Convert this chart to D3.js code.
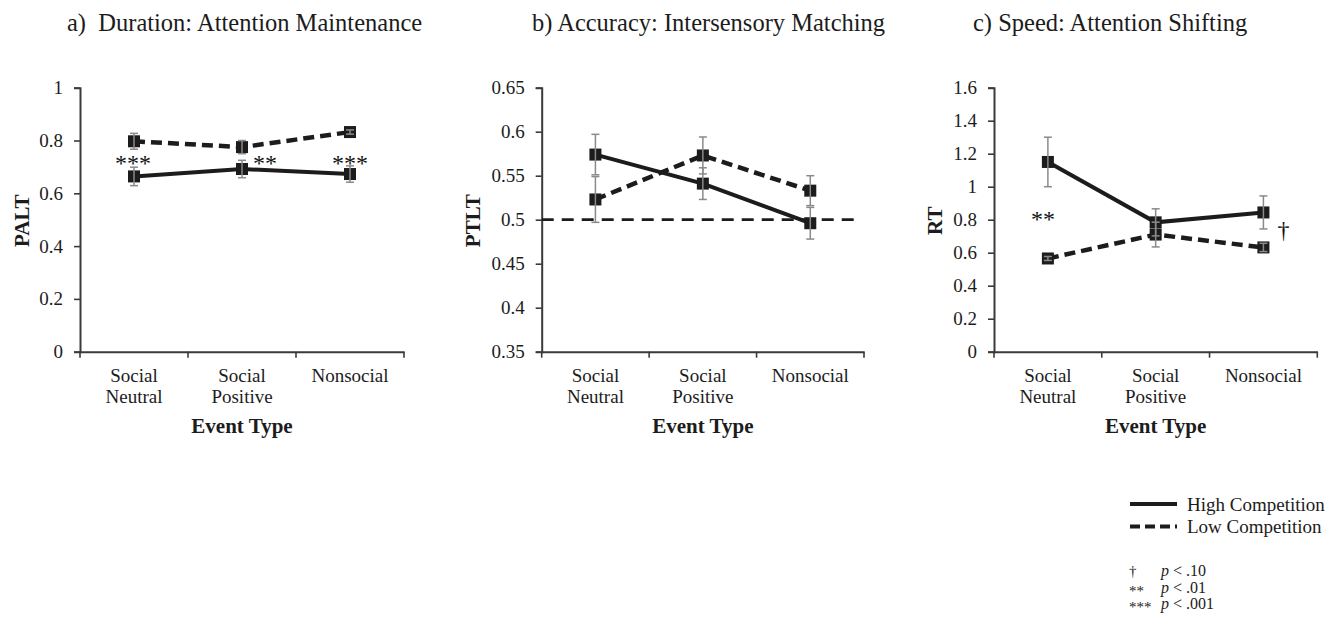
<!DOCTYPE html>
<html>
<head>
<meta charset="utf-8">
<script src="https://cdn.jsdelivr.net/npm/d3@7"></script>
<style>
  body { margin: 0; background: #fff; }
  svg { display: block; font-family: "Liberation Serif", "Times New Roman", serif; }
</style>
</head>
<body>
<svg id="chart" width="1339" height="626"></svg>
<script>
// categories shared by all three panels
const categories = ["Social Neutral", "Social Positive", "Nonsocial"];

// a) Duration (PALT)
const durationHigh = [0.664, 0.692, 0.673];
const durationHighErr = [0.035, 0.033, 0.031];
const durationLow = [0.797, 0.775, 0.832];
const durationLowErr = [0.030, 0.025, 0.008];
const durationTicks = ["0", "0.2", "0.4", "0.6", "0.8", "1"];

// b) Accuracy (PTLT)
const accuracyHigh = [0.574, 0.541, 0.496];
const accuracyHighErr = [0.023, 0.018, 0.018];
const accuracyLow = [0.523, 0.573, 0.533];
const accuracyLowErr = [0.026, 0.021, 0.017];
const accuracyTicks = ["0.35", "0.4", "0.45", "0.5", "0.55", "0.6", "0.65"];

// c) Speed (RT)
const speedHigh = [1.15, 0.784, 0.844];
const speedHighErr = [0.15, 0.082, 0.10];
const speedLow = [0.565, 0.71, 0.632];
const speedLowErr = [0.012, 0.075, 0.025];
const speedTicks = ["0", "0.2", "0.4", "0.6", "0.8", "1", "1.2", "1.4", "1.6"];

// significance marks: [category index, y value, text, x offset]
const durationSig = [[0, 0.685, "***", -1], [1, 0.685, "**", 23], [2, 0.685, "***", 0]];
const speedSig = [[0, 0.755, "**", -5], [2, 0.69, "\u2020", 20]];

const svg = d3.select("#chart");
const ink = "#1c1c1c";
const axisColor = "#3a3a3a";
const errColor = "#8a8a8a";
const plotTop = 87.7, plotBottom = 351.7;

const panels = [
  { title: "a)  Duration: Attention Maintenance", titleX: 67, left: 80, right: 404, yLabel: "PALT", yLabelX: 29,
    ticks: durationTicks, high: durationHigh, highErr: durationHighErr, low: durationLow, lowErr: durationLowErr, sig: durationSig },
  { title: "b) Accuracy: Intersensory Matching", titleX: 532, left: 541.7, right: 864, yLabel: "PTLT", yLabelX: 480,
    ticks: accuracyTicks, high: accuracyHigh, highErr: accuracyHighErr, low: accuracyLow, lowErr: accuracyLowErr, sig: [], refLine: 0.5 },
  { title: "c) Speed: Attention Shifting", titleX: 973, left: 994, right: 1317.3, yLabel: "RT", yLabelX: 942,
    ticks: speedTicks, high: speedHigh, highErr: speedHighErr, low: speedLow, lowErr: speedLowErr, sig: speedSig }
];

panels.forEach(p => {
  const tickVals = p.ticks.map(Number);
  const y = d3.scaleLinear().domain(d3.extent(tickVals)).range([plotBottom, plotTop]);
  const x = d3.scaleBand().domain(categories).range([p.left, p.right]);
  const cx = c => x(c) + x.bandwidth() / 2;

  svg.append("text")
    .attr("x", p.titleX).attr("y", 31)
    .attr("font-size", 24.5).attr("fill", ink)
    .style("white-space", "pre")
    .text(p.title);

  // y axis
  const yAxis = svg.append("g")
    .attr("transform", `translate(${p.left},0)`)
    .call(d3.axisLeft(y).tickValues(tickVals).tickFormat((d, i) => p.ticks[i]).tickSize(6).tickPadding(11));
  yAxis.select(".domain").attr("stroke", axisColor).attr("stroke-width", 2);
  yAxis.selectAll(".tick line").attr("stroke", axisColor).attr("stroke-width", 1.6);
  yAxis.selectAll(".tick text").attr("font-size", 19).attr("fill", ink).attr("font-family", "Liberation Serif, serif");

  // x axis: labels at band centres, ticks at band edges
  const xAxis = svg.append("g")
    .attr("transform", `translate(0,${plotBottom})`)
    .call(d3.axisBottom(x).tickSize(0).tickPadding(0).tickSizeOuter(0));
  xAxis.select(".domain").attr("stroke", axisColor).attr("stroke-width", 2);
  xAxis.selectAll(".tick text").remove();
  xAxis.selectAll(".tick").each(function(d) {
    const words = d.split(" ");
    const t = d3.select(this).append("text")
      .attr("font-size", 19).attr("fill", ink).attr("text-anchor", "middle")
      .attr("font-family", "Liberation Serif, serif");
    words.forEach((w, i) => t.append("tspan").attr("x", 0).attr("y", 30 + i * 21.5).text(w));
  });
  const edges = d3.range(categories.length + 1).map(i => p.left + i * x.step());
  xAxis.selectAll(".edge").data(edges).enter().append("line")
    .attr("x1", d => d).attr("x2", d => d).attr("y1", 0).attr("y2", 6)
    .attr("stroke", axisColor).attr("stroke-width", 1.6);

  svg.append("text")
    .attr("x", (p.left + p.right) / 2).attr("y", 433)
    .attr("text-anchor", "middle").attr("font-size", 21).attr("font-weight", "bold").attr("fill", ink)
    .text("Event Type");

  svg.append("text")
    .attr("transform", `translate(${p.yLabelX},${(plotTop + plotBottom) / 2 + 1}) rotate(-90)`)
    .attr("text-anchor", "middle").attr("font-size", 21).attr("font-weight", "bold").attr("fill", ink)
    .text(p.yLabel);

  if (p.refLine !== undefined) {
    svg.append("line")
      .attr("x1", p.left).attr("x2", p.right - 9)
      .attr("y1", y(p.refLine)).attr("y2", y(p.refLine))
      .attr("stroke", ink).attr("stroke-width", 2.8).attr("stroke-dasharray", "12,8");
  }

  const series = [
    { vals: p.low, err: p.lowErr, dash: "11,6", width: 4.5 },
    { vals: p.high, err: p.highErr, dash: null, width: 4 }
  ];
  const line = d3.line().x((d, i) => cx(categories[i])).y(d => y(d));

  series.forEach(s => {
    svg.append("path")
      .datum(s.vals)
      .attr("d", line)
      .attr("fill", "none").attr("stroke", ink).attr("stroke-width", s.width)
      .attr("stroke-dasharray", s.dash);
    svg.selectAll(null).data(s.vals).enter().append("rect")
      .attr("x", (d, i) => cx(categories[i]) - 6).attr("y", d => y(d) - 6)
      .attr("width", 12).attr("height", 12).attr("fill", ink);
  });

  series.forEach(s => {
    const g = svg.append("g").attr("stroke", errColor).attr("stroke-width", 1.5);
    s.vals.forEach((v, i) => {
      const xc = cx(categories[i]);
      g.append("line").attr("x1", xc).attr("x2", xc).attr("y1", y(v - s.err[i])).attr("y2", y(v + s.err[i]));
      [v - s.err[i], v + s.err[i]].forEach(e => {
        g.append("line").attr("x1", xc - 4).attr("x2", xc + 4).attr("y1", y(e)).attr("y2", y(e));
      });
    });
  });

  p.sig.forEach(([ci, v, txt, dx]) => {
    svg.append("text")
      .attr("x", cx(categories[ci]) + dx).attr("y", y(v))
      .attr("text-anchor", "middle").attr("font-size", 24).attr("fill", "#111")
      .text(txt);
  });
});

// legend
const legend = svg.append("g");
const legendItems = [
  { label: "High Competition", dash: null, y: 504 },
  { label: "Low Competition", dash: "10,5", y: 526.5 }
];
legendItems.forEach(d => {
  legend.append("line").attr("x1", 1130).attr("x2", 1177).attr("y1", d.y).attr("y2", d.y)
    .attr("stroke", ink).attr("stroke-width", 4).attr("stroke-dasharray", d.dash);
  legend.append("text").attr("x", 1187).attr("y", d.y + 6.5).attr("font-size", 19).attr("fill", ink).text(d.label);
});

const pNotes = [
  { sym: "\u2020", val: "< .10", y: 576 },
  { sym: "**", val: "< .01", y: 592.5 },
  { sym: "***", val: "< .001", y: 609 }
];
pNotes.forEach(d => {
  legend.append("text").attr("x", 1129).attr("y", d.y + (d.sym === "\u2020" ? 0 : 3)).attr("font-size", 15).attr("fill", ink).text(d.sym);
  const t = legend.append("text").attr("x", 1161).attr("y", d.y).attr("font-size", 16).attr("fill", ink);
  t.append("tspan").attr("font-style", "italic").text("p");
  t.append("tspan").text(" " + d.val);
});
</script>
</body>
</html>
